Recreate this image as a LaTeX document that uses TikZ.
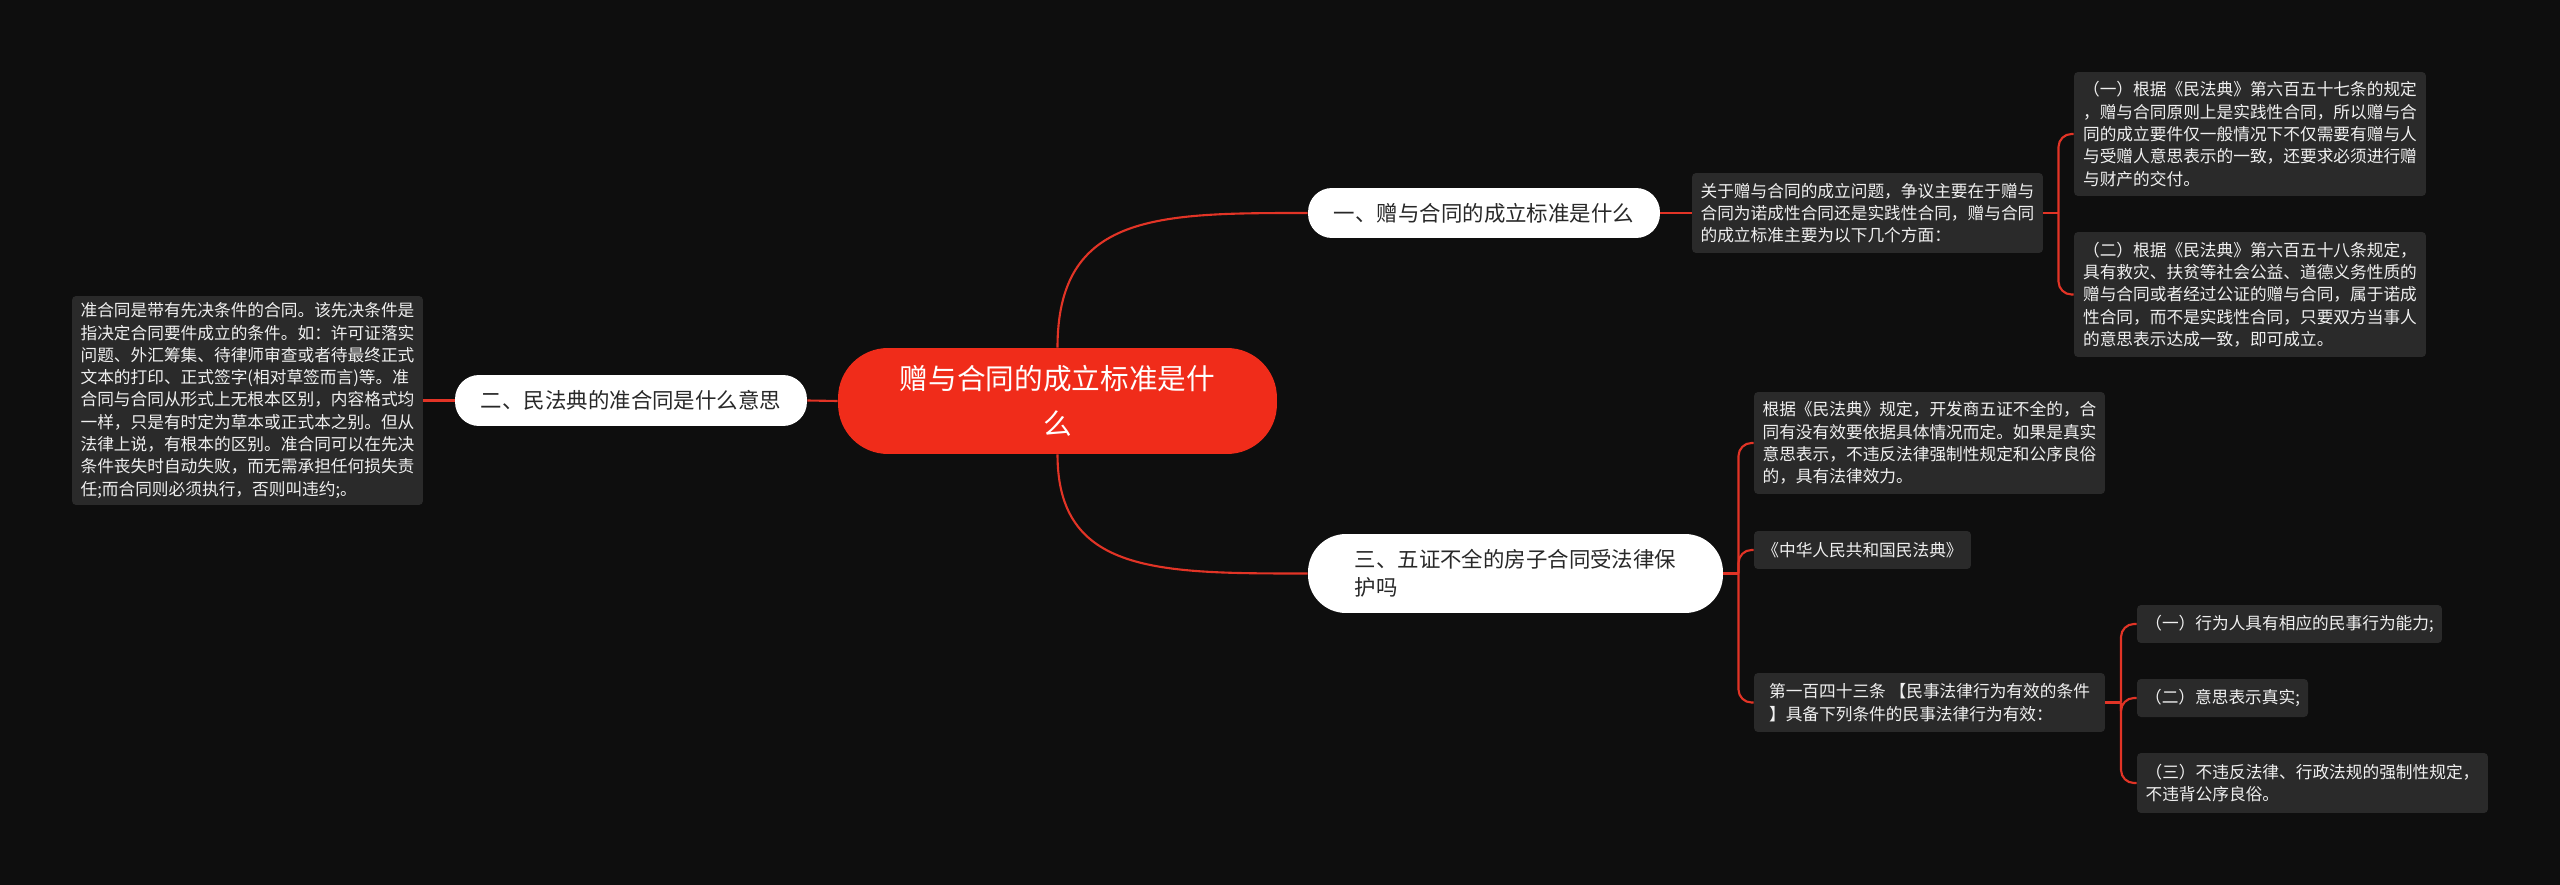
\documentclass[tikz,border=0pt]{standalone}
\usepackage{fontspec}
\setmainfont{Noto Sans CJK SC}
\usetikzlibrary{calc}
\definecolor{bgdark}{RGB}{14,14,14}
\definecolor{hubred}{RGB}{240,44,26}
\definecolor{wire}{RGB}{226,52,38}
\definecolor{card}{RGB}{42,42,42}
\definecolor{ink}{RGB}{40,40,40}
\newcommand\hubfont{\fontsize{16.3pt}{25.6pt}\selectfont}
\newcommand\topicfont{\fontsize{12.2pt}{15.9pt}\selectfont}
\newcommand\notefont{\fontsize{9.5pt}{12.7pt}\selectfont}
\tikzset{
  hub/.style={fill=hubred,text=white,rounded corners=1cm,inner sep=0pt,
    minimum width=8.78cm,minimum height=2.12cm,align=center,font=\hubfont},
  topic/.style={fill=white,text=ink,rounded corners=#1,inner sep=0pt,
    align=left,font=\topicfont},
  topic/.default=0.48cm,
  note/.style={fill=card,text=white!94!black,rounded corners=0.08cm,inner sep=0pt,
    align=left,font=\notefont},
  link/.style={draw=wire,line width=1.2pt},
  bracket/.style={link,rounded corners=0.26cm},
}

\begin{document}
\begin{tikzpicture}[x=0.02cm,y=-0.02cm]
    \fill[bgdark] (0,0) rectangle (2560,885);
    \useasboundingbox (0,0) rectangle (2560,885);
    % centre and the three topics
    \node[hub] (main) at (1057.5,401) {赠与合同的成立标准是什\\么};
    \node[topic,minimum width=7.04cm,minimum height=1.02cm] (b2) at (631,400.5) {二、民法典的准合同是什么意思};
    \node[topic,minimum width=7.04cm,minimum height=1cm] (b1) at (1484,213) {一、赠与合同的成立标准是什么};
    \node[topic=0.76cm,minimum width=8.3cm,minimum height=1.58cm] (b3) at (1515.5,573.5) {三、五证不全的房子合同受法律保\\护吗};
    % left
    \node[note,minimum width=7.02cm,minimum height=4.18cm] (defn) at (247.5,400.5) {准合同是带有先决条件的合同。该先决条件是\\
指决定合同要件成立的条件。如：许可证落实\\
问题、外汇筹集、待律师审查或者待最终正式\\
文本的打印、正式签字(相对草签而言)等。准\\
合同与合同从形式上无根本区别，内容格式均\\
一样，只是有时定为草本或正式本之别。但从\\
法律上说，有根本的区别。准合同可以在先决\\
条件丧失时自动失败，而无需承担任何损失责\\
任;而合同则必须执行，否则叫违约;。};
    % upper right
    \node[note,minimum width=7.02cm,minimum height=1.6cm] (A) at (1867.5,213) {关于赠与合同的成立问题，争议主要在于赠与\\
合同为诺成性合同还是实践性合同，赠与合同\\
的成立标准主要为以下几个方面：};
    \node[note,minimum width=7.04cm,minimum height=2.48cm] (A1) at (2250,134) {（一）根据《民法典》第六百五十七条的规定\\
，赠与合同原则上是实践性合同，所以赠与合\\
同的成立要件仅一般情况下不仅需要有赠与人\\
与受赠人意思表示的一致，还要求必须进行赠\\
与财产的交付。};
    \node[note,minimum width=7.04cm,minimum height=2.5cm] (A2) at (2250,294.5) {（二）根据《民法典》第六百五十八条规定，\\
具有救灾、扶贫等社会公益、道德义务性质的\\
赠与合同或者经过公证的赠与合同，属于诺成\\
性合同，而不是实践性合同，只要双方当事人\\
的意思表示达成一致，即可成立。};
    % lower right
    \node[note,minimum width=7.02cm,minimum height=2.04cm] (C1) at (1929.5,443) {根据《民法典》规定，开发商五证不全的，合\\
同有没有效要依据具体情况而定。如果是真实\\
意思表示，不违反法律强制性规定和公序良俗\\
的，具有法律效力。};
    \node[note,minimum width=4.34cm,minimum height=0.76cm] (C2) at (1862.5,550) {《中华人民共和国民法典》};
    \node[note,minimum width=7.02cm,minimum height=1.18cm] (C3) at (1929.5,702.5) {第一百四十三条 【民事法律行为有效的条件\\
】具备下列条件的民事法律行为有效：};
    \node[note,minimum width=6.1cm,minimum height=0.76cm] (D1) at (2289.5,624) {（一）行为人具有相应的民事行为能力;};
    \node[note,minimum width=3.42cm,minimum height=0.76cm] (D2) at (2222.5,698) {（二）意思表示真实;};
    \node[note,minimum width=7.02cm,minimum height=1.2cm] (D3) at (2312.5,783) {（三）不违反法律、行政法规的强制性规定，\\
不违背公序良俗。};
    % junctions
    \coordinate (ja) at (2058.5,213);
    \coordinate (jc) at (1738.5,573.5);
    \coordinate (jd) at (2121,702.5);
    % connectors
    \draw[link] (main.west) -- (b2.east);
    \draw[link] (b2.west) -- (defn.east);
    \draw[link] (main.north) .. controls (main.north |- b1.west) and ($(b1.west)+(-150,0)$) .. (b1.west);
    \draw[link] (main.south) .. controls (main.south |- b3.west) and ($(b3.west)+(-150,0)$) .. (b3.west);
    \draw[link] (b1.east) -- (A.west);
    \draw[link] (A.east) -- (ja);
    \draw[bracket] (ja) |- (A1.west);
    \draw[bracket] (ja) |- (A2.west);
    \draw[link] (b3.east) -- (jc);
    \foreach \n in {C1,C2,C3} \draw[bracket] (jc) |- (\n.west);
    \draw[link] (C3.east) -- (jd);
    \foreach \n in {D1,D2,D3} \draw[bracket] (jd) |- (\n.west);
\end{tikzpicture}
\end{document}
